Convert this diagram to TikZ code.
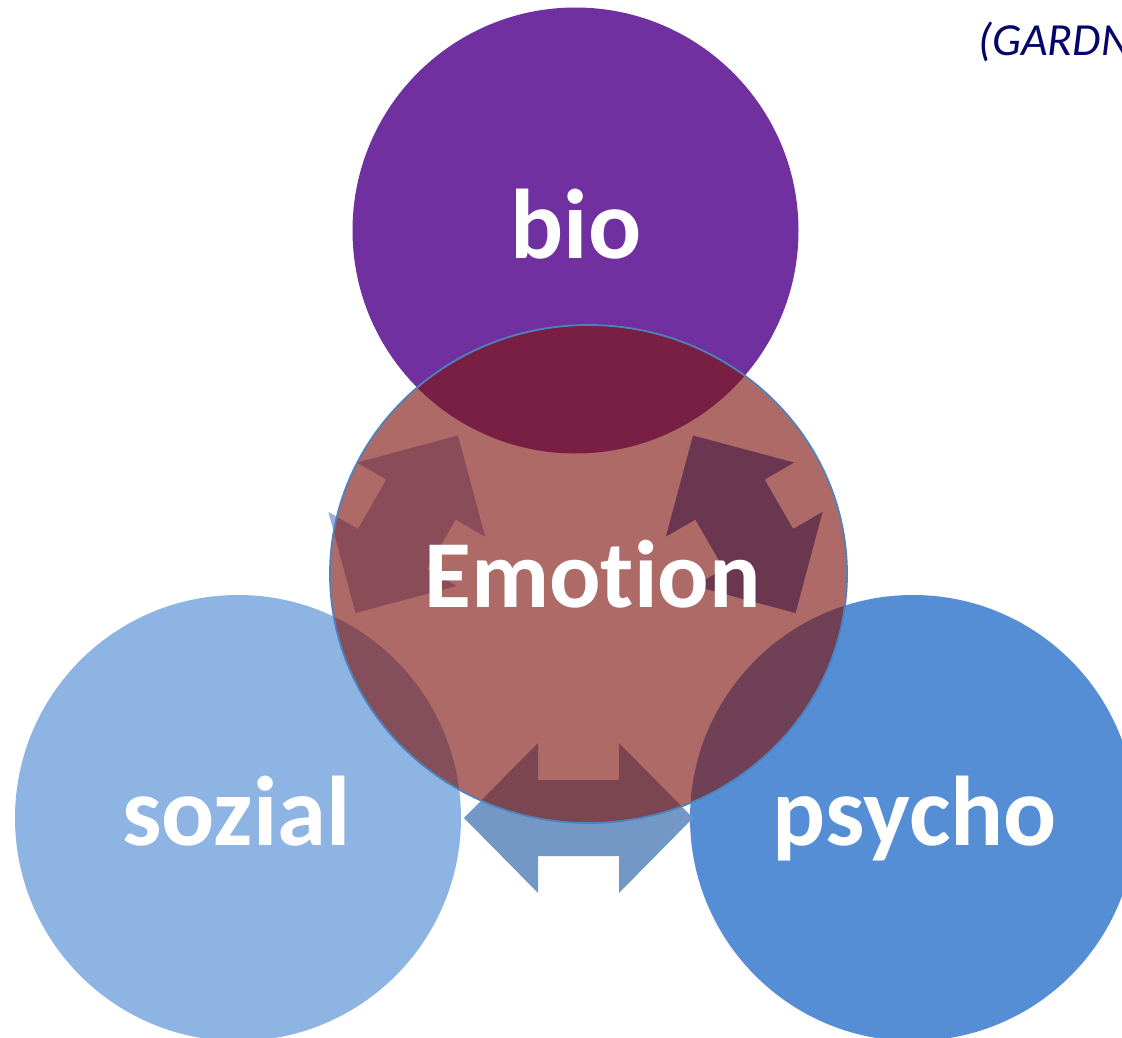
\documentclass[tikz,border=0pt]{standalone}
\usepackage{fontspec}
\setmainfont{Carlito}[Ligatures=NoCommon]
\usetikzlibrary{calc,shapes.geometric}

\definecolor{bioPurple}{RGB}{112,48,160}
\definecolor{sozialBlue}{RGB}{142,180,227}
\definecolor{psychoBlue}{RGB}{85,142,213}
\definecolor{emoRed}{RGB}{128,23,17}
\definecolor{emoRim}{RGB}{79,129,189}
\definecolor{arrowLeft}{RGB}{157,172,221}
\definecolor{arrowRight}{RGB}{69,110,194}
\definecolor{arrowBottom}{RGB}{115,152,198}
\definecolor{citeNavy}{RGB}{5,5,105}

\begin{document}
\begin{tikzpicture}[x=1pt,y=-1pt,
  disc/.style={circle, minimum size=446pt, inner sep=0pt, draw=none},
  lbl/.style={text=white, inner sep=0pt, anchor=base,
              font=\bfseries\fontsize{99}{102}\selectfont},
  ]
\useasboundingbox (0,0) rectangle (1122,1038);
\clip (0,0) rectangle (1122,1038);

% the three outer discs
\node[disc, fill=bioPurple]  (bio)    at (575.5,230.5) {};
\node[disc, fill=sozialBlue] (sozial) at (238,818) {};
\node[disc, fill=psychoBlue] (psycho) at (913,818) {};

% double-headed block arrows between each pair of discs
\fill[arrowLeft, shift={($(bio)!0.5!(sozial)$)}, rotate=60]
  (-102.5,0) -- (-28.5,74) -- (-28.5,40) -- (28.5,40) -- (28.5,74)
  -- (102.5,0) -- (28.5,-74) -- (28.5,-40) -- (-28.5,-40) -- (-28.5,-74) -- cycle;
\fill[arrowRight, shift={($(bio)!0.5!(psycho)$)}, rotate=-60]
  (-102.5,0) -- (-28.5,74) -- (-28.5,40) -- (28.5,40) -- (28.5,74)
  -- (102.5,0) -- (28.5,-74) -- (28.5,-40) -- (-28.5,-40) -- (-28.5,-74) -- cycle;
\fill[arrowBottom, shift={($(sozial)!0.5!(psycho)+(3,0)$)}]
  (-114.5,0) -- (-40.5,75) -- (-40.5,38) -- (40.5,38) -- (40.5,75)
  -- (114.5,0) -- (40.5,-75) -- (40.5,-38) -- (-40.5,-38) -- (-40.5,-75) -- cycle;

% translucent central ellipse
\node[ellipse, minimum width=517pt, minimum height=498pt, inner sep=0pt,
      fill=emoRed, fill opacity=0.643, draw=emoRim, line width=1.8pt]
      (emotion) at (588.5,574) {};

% labels
\node[lbl] (bioText)    at (576,258)   {bio};
\node[lbl, font=\bfseries\fontsize{96}{100}\selectfont]
           (emoText)    at (592.5,607) {Emotion};
\node[lbl] (sozialText) at (236.5,845) {sozial};
\node[lbl] (psychoText) at (915,845)   {psycho};

% citation in the top right corner
\node[anchor=base west, inner sep=0pt, text=citeNavy,
      font=\itshape\fontsize{46}{49}\selectfont] (cite) at (978,56) {(GARDN};
\end{tikzpicture}
\end{document}
